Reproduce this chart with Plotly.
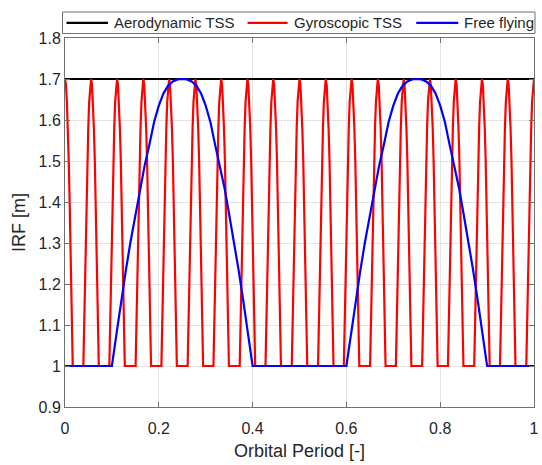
import plotly.graph_objects as go

# ---- data -------------------------------------------------------------
# Aerodynamic TSS: constant IRF over the orbit
aero_x = [0.0, 1.0]
aero_y = [1.7, 1.7]

# Gyroscopic TSS: positions of the IRF maxima along the orbit
gyro_peaks = [0.0, 0.0556, 0.111, 0.167, 0.222, 0.278, 0.333, 0.389, 0.444,
              0.5, 0.556, 0.611, 0.667, 0.722, 0.778, 0.833, 0.889, 0.944, 1.0]
# shape of a single lobe: distance from the maximum and IRF value
gyro_lobe_dx = [0.0, 0.002, 0.004, 0.006, 0.008, 0.010, 0.012, 0.014, 0.0165]
gyro_lobe_y = [1.7, 1.686, 1.645, 1.58, 1.5, 1.395, 1.28, 1.16, 1.0]

# Free flying
free_x = [0.0, 0.1, 0.11, 0.12, 0.13, 0.14, 0.15, 0.16, 0.17, 0.18, 0.19,
          0.2, 0.21, 0.22, 0.23, 0.24, 0.25, 0.26, 0.27, 0.28, 0.29, 0.3,
          0.31, 0.32, 0.33, 0.34, 0.35, 0.36, 0.37, 0.38, 0.39, 0.4,
          0.6, 0.61, 0.62, 0.63, 0.64, 0.65, 0.66, 0.67, 0.68, 0.69,
          0.7, 0.71, 0.72, 0.73, 0.74, 0.75, 0.76, 0.77, 0.78, 0.79, 0.8,
          0.81, 0.82, 0.83, 0.84, 0.85, 0.86, 0.87, 0.88, 0.89, 0.9, 1.0]
free_y = [1.0, 1.0, 1.08, 1.16, 1.235, 1.305, 1.37, 1.435, 1.49, 1.54, 1.595,
          1.635, 1.665, 1.684, 1.694, 1.699, 1.7, 1.699, 1.694, 1.684, 1.665, 1.635,
          1.595, 1.54, 1.49, 1.435, 1.37, 1.305, 1.235, 1.16, 1.08, 1.0,
          1.0, 1.08, 1.16, 1.235, 1.305, 1.37, 1.435, 1.49, 1.54, 1.595,
          1.635, 1.665, 1.684, 1.694, 1.699, 1.7, 1.699, 1.694, 1.684, 1.665, 1.635,
          1.595, 1.54, 1.49, 1.435, 1.37, 1.305, 1.235, 1.16, 1.08, 1.0, 1.0]

x_ticks = [0, 0.2, 0.4, 0.6, 0.8, 1.0]
x_tick_text = ["0", "0.2", "0.4", "0.6", "0.8", "1"]
y_ticks = [0.9, 1.0, 1.1, 1.2, 1.3, 1.4, 1.5, 1.6, 1.7, 1.8]
y_tick_text = ["0.9", "1", "1.1", "1.2", "1.3", "1.4", "1.5", "1.6", "1.7", "1.8"]

series_names = ["Aerodynamic TSS", "Gyroscopic TSS", "Free flying"]
series_colors = ["#000000", "#ff0000", "#0000ff"]

# assemble the gyroscopic curve lobe by lobe (symmetric about each maximum)
lobe_dx = [-d for d in gyro_lobe_dx[:0:-1]] + gyro_lobe_dx
lobe_y = gyro_lobe_y[:0:-1] + gyro_lobe_y
gyro_x, gyro_y = [], []
for p in gyro_peaks:
    for dx, v in zip(lobe_dx, lobe_y):
        x = p + dx
        if 0.0 <= x <= 1.0:
            gyro_x.append(x)
            gyro_y.append(v)

# ---- layout geometry (pixels) -----------------------------------------
W, H = 542, 465
ML, MR, MT, MB = 65, 3, 38, 58
PW, PH = W - ML - MR, H - MT - MB


def px(xp):
    return (xp - ML) / PW


def py(yp):
    return (H - MB - yp) / PH


FONT = "Liberation Sans, Arial, sans-serif"
TXT = "#262626"
AX = "#707070"

fig = go.Figure()
fig.add_trace(go.Scatter(x=aero_x, y=aero_y, mode="lines", name=series_names[0],
                         line=dict(color=series_colors[0], width=2.2)))
fig.add_trace(go.Scatter(x=gyro_x, y=gyro_y, mode="lines", name=series_names[1],
                         line=dict(color=series_colors[1], width=2.2)))
fig.add_trace(go.Scatter(x=free_x, y=free_y, mode="lines", name=series_names[2],
                         line=dict(color=series_colors[2], width=2.2)))

axis_common = dict(
    showgrid=True, gridcolor="#e3e3e3", gridwidth=1,
    showline=True, linecolor=AX, linewidth=1, mirror="ticks",
    ticks="inside", ticklen=5, tickcolor=AX, tickwidth=1,
    zeroline=False, ticklabeloverflow="allow",
    tickfont=dict(family=FONT, size=16, color=TXT),
)

fig.update_xaxes(range=[0, 1], tickvals=x_ticks, ticktext=x_tick_text,
                 ticklabelstandoff=7,
                 title=dict(text="Orbital Period [-]", standoff=8,
                            font=dict(family=FONT, size=18, color=TXT)),
                 **axis_common)
fig.update_yaxes(range=[0.9, 1.8], tickvals=y_ticks, ticktext=y_tick_text,
                 title=dict(text="IRF [m]", standoff=8,
                            font=dict(family=FONT, size=18, color=TXT)),
                 **axis_common)

# legend drawn as a boxed row above the axes
shapes = [dict(type="rect", xref="paper", yref="paper",
               x0=px(62.5), x1=px(540), y0=py(33.5), y1=py(12),
               line=dict(color=AX, width=1), fillcolor="white")]
annotations = []
legend_y = 22.8
entries = [(66.5, 108.5, 112), (249.5, 290, 294.5), (420, 462.5, 466.5)]
for (l0, l1, tx), name, col in zip(entries, series_names, series_colors):
    shapes.append(dict(type="line", xref="paper", yref="paper",
                       x0=px(l0), x1=px(l1), y0=py(legend_y), y1=py(legend_y),
                       line=dict(color=col, width=2.2)))
    annotations.append(dict(text=name, xref="paper", yref="paper",
                            x=px(tx), y=py(legend_y), xanchor="left",
                            yanchor="middle", showarrow=False,
                            font=dict(family=FONT, size=15, color=TXT)))

fig.update_layout(
    width=W, height=H,
    margin=dict(l=ML, r=MR, t=MT, b=MB),
    paper_bgcolor="white", plot_bgcolor="white",
    showlegend=False,
    shapes=shapes, annotations=annotations,
)

fig.write_html("out.html")
